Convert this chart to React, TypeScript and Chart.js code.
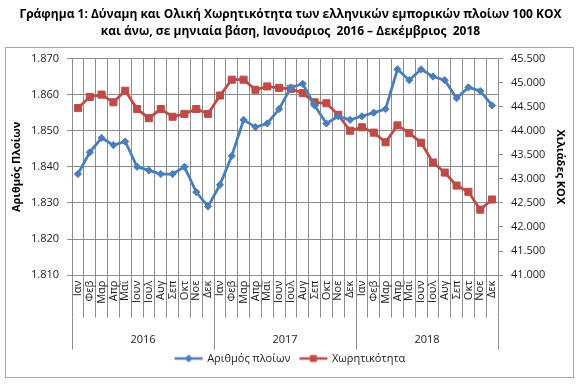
import { useEffect, useRef } from 'react';
import { Chart, registerables } from 'chart.js';

Chart.register(...registerables);

const FONT = '"Open Sans", "Noto Sans", sans-serif';

const titleLines = [
  'Γράφημα 1: Δύναμη και Ολική Χωρητικότητα των ελληνικών εμπορικών πλοίων 100 ΚΟΧ',
  'και άνω, σε μηνιαία βάση, Ιανουάριος  2016 – Δεκέμβριος  2018',
];

const months = ['Ιαν', 'Φεβ', 'Μαρ', 'Απρ', 'Μαϊ', 'Ιουν', 'Ιουλ', 'Αυγ', 'Σεπ', 'Οκτ', 'Νοε', 'Δεκ'];
const years = ['2016', '2017', '2018'];

const seriesNames = ['Αριθμός πλοίων', 'Χωρητικότητα'];
const leftAxisTitle = 'Αριθμός Πλοίων';
const rightAxisTitle = 'Χιλιάδες ΚΟΧ';

// number of ships (left axis)
const shipCount = [
  1838, 1844, 1848, 1846, 1847, 1840, 1839, 1838, 1838, 1840, 1833, 1829,
  1835, 1843, 1853, 1851, 1852, 1856, 1862, 1863, 1857, 1852, 1854, 1853,
  1854, 1855, 1856, 1867, 1864, 1867, 1865, 1864, 1859, 1862, 1861, 1857,
];

// gross tonnage, thousands GT (right axis)
const grossTonnage = [
  44470, 44700, 44750, 44590, 44830, 44450, 44260, 44450, 44290, 44350, 44450, 44350,
  44730, 45060, 45060, 44850, 44920, 44890, 44870, 44780, 44590, 44570, 44330, 44000,
  44070, 43960, 43760, 44110, 43950, 43750, 43340, 43130, 42860, 42730, 42360, 42570,
];

const leftMin = 1810;
const leftMax = 1870;
const leftStep = 10;
const rightMin = 41000;
const rightMax = 45500;
const rightStep = 500;

const BLUE = '#4A7EBB';
const RED = '#BE4B48';
const GRID = '#8C8C8C';
const TEXT = '#1a1a1a';

const fmt = (v: number) => String(Math.round(v)).replace(/\B(?=(\d{3})+(?!\d))/g, '.');

function legendImage(color: string, shape: 'diamond' | 'square') {
  const c = document.createElement('canvas');
  c.width = 32;
  c.height = 10;
  const ctx = c.getContext('2d')!;
  ctx.strokeStyle = color;
  ctx.lineWidth = 2.5;
  ctx.beginPath();
  ctx.moveTo(2, 5);
  ctx.lineTo(30, 5);
  ctx.stroke();
  ctx.fillStyle = color;
  ctx.beginPath();
  if (shape === 'diamond') {
    ctx.moveTo(16, 1);
    ctx.lineTo(20, 5);
    ctx.lineTo(16, 9);
    ctx.lineTo(12, 5);
    ctx.closePath();
  } else {
    ctx.rect(12.5, 1.5, 7, 7);
  }
  ctx.fill();
  return c;
}

const framePlugin = {
  id: 'frame',
  beforeDraw(chart: any) {
    const ctx = chart.ctx;
    ctx.save();
    ctx.fillStyle = '#ffffff';
    ctx.fillRect(0, 0, chart.width, chart.height);
    ctx.strokeStyle = '#A6A6A6';
    ctx.lineWidth = 1;
    ctx.strokeRect(5.5, 47.5, chart.width - 13, chart.height - 58);
    ctx.restore();
  },
};

export default function App() {
  const ref = useRef<HTMLCanvasElement | null>(null);

  useEffect(() => {
    if (!ref.current) return;
    const images = [legendImage(BLUE, 'diamond'), legendImage(RED, 'square')];
    const labels = years.flatMap(() => months);
    const chart = new Chart(ref.current, {
      type: 'line',
      data: {
        labels,
        datasets: [
          {
            label: seriesNames[0],
            data: shipCount,
            yAxisID: 'y',
            xAxisID: 'x',
            borderColor: BLUE,
            backgroundColor: BLUE,
            borderWidth: 2.75,
            pointStyle: 'rectRot',
            pointRadius: 3.6,
            pointBorderWidth: 1,
            tension: 0,
          },
          {
            label: seriesNames[1],
            data: grossTonnage,
            yAxisID: 'y1',
            xAxisID: 'x',
            borderColor: RED,
            backgroundColor: RED,
            borderWidth: 2.75,
            pointStyle: 'rect',
            pointRadius: 5,
            pointBorderWidth: 1,
            tension: 0,
          },
        ],
      },
      options: {
        animation: false,
        responsive: false,
        devicePixelRatio: 1,
        layout: { padding: { left: 0, right: 0, top: 0, bottom: 14 } },
        plugins: {
          title: {
            display: true,
            text: titleLines,
            color: '#000',
            font: { family: FONT, size: 12, weight: 'bold', lineHeight: 1.45 },
            padding: { top: 5.5, bottom: 18.2 },
          },
          legend: {
            display: true,
            position: 'bottom',
            labels: {
              color: TEXT,
              font: { family: FONT, size: 11 },
              usePointStyle: true,
              pointStyleWidth: 26,
              padding: 10,
              generateLabels: (ch: any) => {
                const items = (Chart.defaults.plugins.legend.labels as any).generateLabels(ch);
                return items.map((it: any, i: number) => ({ ...it, pointStyle: images[i] }));
              },
            },
          },
          tooltip: { enabled: false },
        },
        scales: {
          x: {
            type: 'category',
            position: 'bottom',
            offset: true,
            weight: 0,
            grid: { offset: true, color: GRID, lineWidth: 1, drawTicks: true, tickLength: 42.5 },
            border: { color: GRID },
            ticks: {
              autoSkip: false,
              minRotation: 90,
              maxRotation: 90,
              padding: -37,
              color: TEXT,
              font: { family: FONT, size: 11 },
            },
            afterFit: (s: any) => {
              s.height = 42.5;
            },
          },
          x2: {
            type: 'category',
            position: 'bottom',
            labels: years,
            offset: true,
            weight: 1,
            grid: { offset: true, drawOnChartArea: false, color: GRID, drawTicks: true, tickLength: 32 },
            border: { display: false },
            ticks: { padding: -16.6, color: TEXT, font: { family: FONT, size: 11 } },
            afterFit: (s: any) => {
              s.height = 25.4;
            },
          },
          y: {
            type: 'linear',
            position: 'left',
            min: leftMin,
            max: leftMax,
            grid: { color: GRID, lineWidth: 1, drawTicks: true, tickLength: 5 },
            border: { color: GRID },
            ticks: {
              stepSize: leftStep,
              padding: 8,
              color: TEXT,
              font: { family: FONT, size: 11 },
              callback: (v: any) => fmt(Number(v)),
            },
            title: {
              display: true,
              text: leftAxisTitle,
              color: '#000',
              font: { family: FONT, size: 11, weight: 'bold', lineHeight: 1.2 },
              padding: { top: 10.4, bottom: 0 },
            },
            afterFit: (s: any) => {
              s.width = 72;
            },
          },
          y1: {
            type: 'linear',
            position: 'right',
            min: rightMin,
            max: rightMax,
            grid: { drawOnChartArea: false, color: GRID, drawTicks: true, tickLength: 5 },
            border: { color: GRID },
            ticks: {
              stepSize: rightStep,
              padding: 8,
              color: TEXT,
              font: { family: FONT, size: 11 },
              callback: (v: any) => fmt(Number(v)),
            },
            title: {
              display: true,
              text: rightAxisTitle,
              color: '#000',
              font: { family: FONT, size: 11, weight: 'bold', lineHeight: 1.2 },
              padding: { top: 14.4, bottom: 0 },
            },
            afterFit: (s: any) => {
              s.width = 83;
            },
          },
        },
      },
      plugins: [framePlugin],
    } as any);
    return () => chart.destroy();
  }, []);

  return (
    <div style={{ position: 'absolute', left: 0, top: 0, width: 581, height: 388, background: '#fff' }}>
      <canvas ref={ref} width={581} height={388} style={{ width: 581, height: 388, display: 'block' }} />
    </div>
  );
}
